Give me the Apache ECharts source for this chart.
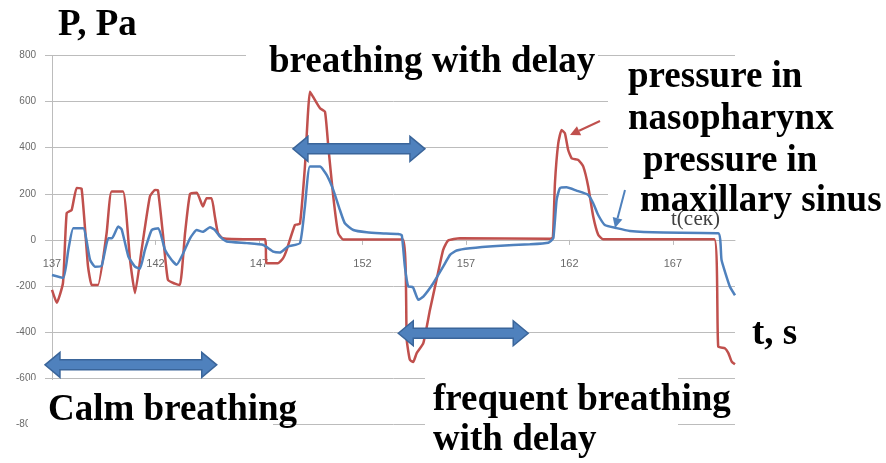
<!DOCTYPE html>
<html>
<head>
<meta charset="utf-8">
<script src="https://cdn.jsdelivr.net/npm/echarts@6/dist/echarts.min.js"></script>
<style>
html,body{margin:0;padding:0;background:#fff;}
#chart{width:886px;height:463px;}
</style>
</head>
<body>
<div id="chart"></div>
<script>
// Pressure in nasopharynx (red): time, s and pressure, Pa
const nasoT = [137.00,137.23,137.53,137.71,137.95,138.19,138.43,138.74,138.92,139.22,139.64,139.88,140.43,140.77,141.01,141.33,141.73,141.98,142.12,142.36,142.60,142.94,143.18,143.43,143.67,144.00,144.29,144.47,144.71,144.87,145.02,145.26,146.50,147.29,147.37,147.92,148.16,148.34,148.74,148.98,149.22,149.46,149.62,149.95,150.19,150.35,150.59,150.83,151.07,153.96,154.14,154.29,154.45,154.62,154.94,155.26,155.58,155.90,156.14,156.71,161.06,161.20,161.30,161.46,161.62,161.78,161.94,162.11,162.43,162.67,162.91,163.15,163.39,163.63,169.00,169.19,169.51,169.68,169.84,170.00];
const nasoP = [-217,-273,-187,117,130,225,222,-115,-195,-196,30,210,210,-87,-231,-43,188,217,215,25,-173,-190,-196,30,200,205,145,181,181,101,29,7,3,3,-101,-101,-80,-43,65,70,318,643,620,571,556,405,188,29,2,2,-434,-520,-530,-491,-448,-304,-173,-43,-3,7,5,10,246,419,477,463,390,354,347,318,231,101,22,3,3,-463,-470,-491,-528,-540];

// Pressure in maxillary sinus (blue)
const sinusT = [137.00,137.55,137.79,138.03,138.51,138.84,139.08,139.40,139.72,139.90,140.20,140.37,140.69,141.01,141.25,141.49,141.82,142.14,142.46,142.78,143.02,143.34,143.67,143.99,144.29,144.63,144.87,145.12,145.44,146.41,147.21,147.69,148.01,148.40,148.98,149.22,149.46,149.95,150.27,150.59,150.91,151.15,151.56,152.20,152.85,153.73,153.90,154.05,154.21,154.44,154.70,154.94,155.42,155.90,156.23,156.55,157.19,158.48,160.09,160.98,161.22,161.38,161.54,161.86,162.34,162.91,163.15,163.39,163.71,164.28,164.92,166.53,169.19,169.35,169.75,170.00];
const sinusP = [-152,-165,-43,51,51,-87,-116,-112,7,7,58,45,-72,-116,-125,-43,43,51,-43,-87,-108,-58,7,43,35,55,43,14,-7,-14,-22,-51,-55,-29,-14,145,318,318,282,217,130,72,43,33,29,26,20,-116,-202,-205,-260,-246,-188,-116,-65,-46,-36,-26,-19,-12,7,173,224,228,214,195,159,108,65,51,39,32,29,-87,-202,-240];

// Axis tick labels
const xTickValues = [137,142,147,152,157,162,167];
const yTickValues = [-800,-600,-400,-200,0,200,400,600,800];

const chart = echarts.init(document.getElementById('chart'), null, {renderer:'canvas'});
const serif = '"Liberation Serif","Times New Roman",serif';
const gridColor = '#bcbcbc';
const gridTop = 55.5, gridBottom = 38.7;
const gridH = 463 - gridTop - gridBottom;
const yMin = yTickValues[0], yMax = yTickValues[yTickValues.length-1];
// move the x axis up to the zero level of the value axis
const zeroOffset = -gridH * (0 - yMin) / (yMax - yMin);

chart.setOption({
  animation:false,
  backgroundColor:'#fff',
  grid:{left:52, right:151, top:gridTop, bottom:gridBottom, containLabel:false},
  xAxis:{
    type:'value', min:137, max:170, position:'bottom', offset:zeroOffset,
    axisLine:{show:true, onZero:false, lineStyle:{color:gridColor, width:1}},
    axisTick:{show:true, length:5, customValues:xTickValues, lineStyle:{color:gridColor}},
    axisLabel:{show:true, customValues:xTickValues, margin:19, color:'#6a6a6a', fontSize:11, fontFamily:'"Liberation Sans",Arial,sans-serif'},
    splitLine:{show:false}
  },
  yAxis:{
    type:'value', min:yMin, max:yMax, interval:200,
    axisLine:{show:true, onZero:false, lineStyle:{color:gridColor, width:1}},
    axisTick:{show:true, length:7, lineStyle:{color:gridColor}},
    axisLabel:{margin:16, color:'#6a6a6a', fontSize:10, fontFamily:'"Liberation Sans",Arial,sans-serif'},
    splitLine:{show:true, lineStyle:{color:gridColor, width:1}}
  },
  series:[
    {name:'pressure in nasopharynx', type:'line', showSymbol:false, smooth:0.15,
     data:nasoT.map((t,i)=>[t,nasoP[i]]),
     lineStyle:{color:'#C0504D', width:2.5}, itemStyle:{color:'#C0504D'}, z:2},
    {name:'pressure in maxillary sinus', type:'line', showSymbol:false, smooth:0.15,
     data:sinusT.map((t,i)=>[t,sinusP[i]]),
     lineStyle:{color:'#4F81BD', width:2.5}, itemStyle:{color:'#4F81BD'}, z:3}
  ]
});

function px(t,v){ return chart.convertToPixel({xAxisIndex:0,yAxisIndex:0},[t,v]); }
function blockArrow(t1,t2,v){
  const a = px(t1,v), b = px(t2,v);
  const x1=a[0], x2=b[0], yc=a[1], hl=15, hh=12.5, bh=5;
  return {type:'polygon', z:20, shape:{points:[[x1,yc],[x1+hl,yc-hh],[x1+hl,yc-bh],[x2-hl,yc-bh],[x2-hl,yc-hh],[x2,yc],[x2-hl,yc+hh],[x2-hl,yc+bh],[x1+hl,yc+bh],[x1+hl,yc+hh]]},
    style:{fill:'#4F81BD', stroke:'#3A659A', lineWidth:1.5}};
}
function label(text,x,baseline,size){
  return {type:'text', z:30, style:{text:text, x:x, y:baseline-0.3*size, verticalAlign:'middle', align:'left',
    font:'bold '+size+'px '+serif, fill:'#000'}};
}
function whiteBox(x,y,w,h){
  return {type:'rect', z:10, shape:{x:x,y:y,width:w,height:h}, style:{fill:'#fff'}};
}
function thinArrow(x1,y1,x2,y2,color){
  const ang=Math.atan2(y2-y1,x2-x1), L=10, W=5;
  const bx=x2-L*Math.cos(ang), by=y2-L*Math.sin(ang);
  const nx=-Math.sin(ang), ny=Math.cos(ang);
  return [
    {type:'line', z:40, shape:{x1:x1,y1:y1,x2:bx,y2:by}, style:{stroke:color, lineWidth:2}},
    {type:'polygon', z:40, shape:{points:[[x2,y2],[bx+nx*W,by+ny*W],[bx-nx*W,by-ny*W]]}, style:{fill:color}}
  ];
}

const g = [];
g.push(whiteBox(246,44,352,38));
g.push(whiteBox(608,62,278,158));
g.push(whiteBox(28,380,245,56));
g.push(whiteBox(425,372,253,91));
g.push(blockArrow(148.64,155.02,395));
g.push(blockArrow(153.73,160.01,-405));
g.push(blockArrow(136.66,144.96,-542));
g.push(label('P, Pa',58,37,37));
g.push(label('breathing with delay',269,74,37));
g.push(label('pressure in',628,89,37));
g.push(label('nasopharynx',628,131,37));
g.push(label('pressure in',643,173,37));
g.push({type:'text', z:25, style:{text:'t(сек)', x:671, y:219, verticalAlign:'middle', align:'left', font:'21px '+serif, fill:'#404040'}});
g.push(label('maxillary sinus',640,213,37));
g.push(label('t, s',752,346,37));
g.push(label('Calm breathing',48,422,37));
g.push(label('frequent breathing',433,412,37));
g.push(label('with delay',433,452,37));
thinArrow(600,121,570,135,'#C0504D').forEach(e=>g.push(e));
thinArrow(625,190,615,228,'#4F81BD').forEach(e=>g.push(e));

chart.setOption({graphic:g});
</script>
</body>
</html>
